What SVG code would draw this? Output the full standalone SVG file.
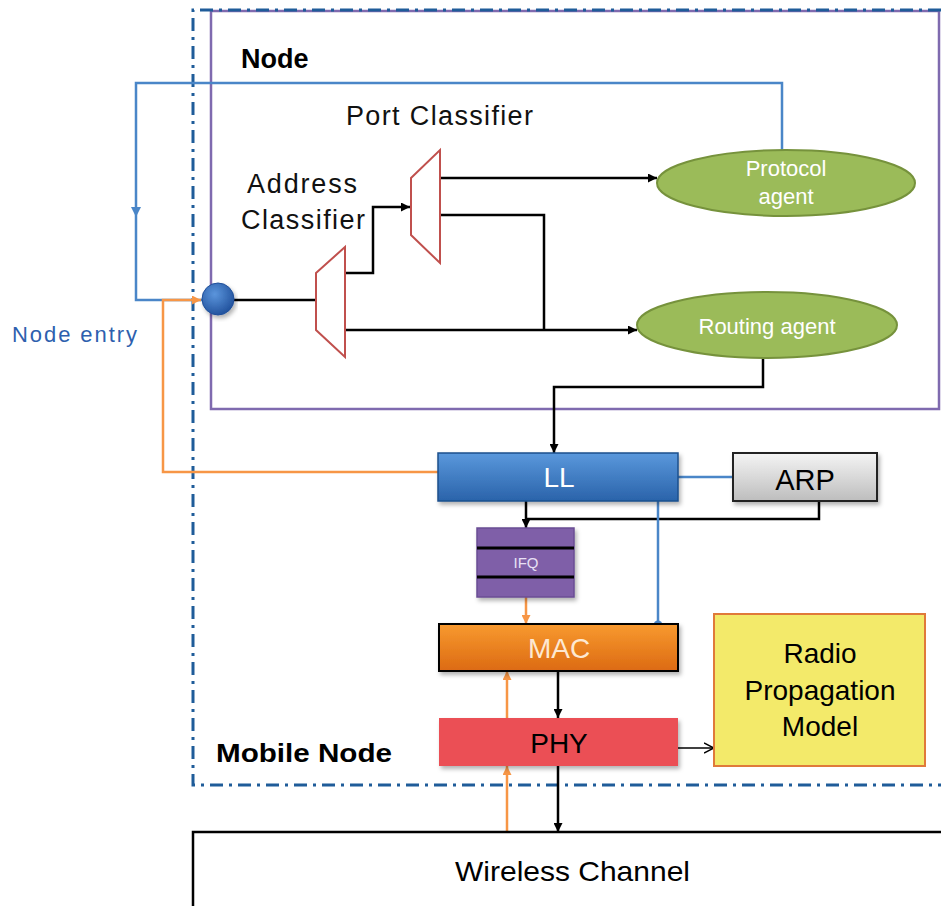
<svg xmlns="http://www.w3.org/2000/svg" width="941" height="906" viewBox="0 0 941 906">
<style>
text{font-family:"Liberation Sans",Arial,sans-serif}
.blk{fill:none;stroke:#000;stroke-width:2.5}
.blu{fill:none;stroke:#4a86c8;stroke-width:2.5}
.org{fill:none;stroke:#f79646;stroke-width:2.5}
.cls{fill:#fff;stroke:#c0504d;stroke-width:2}
.agent{fill:#9bbb59;stroke:#76923c;stroke-width:2}
.lbl{font-size:27px;fill:#111}
.wt{fill:#fff}
</style>
<defs>
<marker id="ab" viewBox="0 0 10 10" refX="10" refY="5" markerWidth="10" markerHeight="9" markerUnits="userSpaceOnUse" orient="auto"><path d="M0,0 L10,5 L0,10 z" fill="#000"/></marker>
<marker id="ao" viewBox="0 0 10 10" refX="10" refY="5" markerWidth="9" markerHeight="9" markerUnits="userSpaceOnUse" orient="auto"><path d="M0,0 L10,5 L0,10 z" fill="#f79646"/></marker>
<marker id="aopen" viewBox="0 0 10 10" refX="10" refY="5" markerWidth="10" markerHeight="12" markerUnits="userSpaceOnUse" orient="auto"><path d="M0,0 L10,5 L0,10" fill="none" stroke="#000" stroke-width="1.5"/></marker>
<linearGradient id="gLL" x1="0" y1="0" x2="0" y2="1"><stop offset="0" stop-color="#5a98dc"/><stop offset="1" stop-color="#2a63aa"/></linearGradient>
<linearGradient id="gARP" x1="0" y1="0" x2="0" y2="1"><stop offset="0" stop-color="#f4f4f4"/><stop offset="0.5" stop-color="#d9d9d9"/><stop offset="1" stop-color="#bdbdbd"/></linearGradient>
<linearGradient id="gMAC" x1="0" y1="0" x2="0" y2="1"><stop offset="0" stop-color="#f89a30"/><stop offset="1" stop-color="#dc6a12"/></linearGradient>
<radialGradient id="gBall" cx="0.4" cy="0.35" r="0.7"><stop offset="0" stop-color="#5b95dc"/><stop offset="1" stop-color="#1f4f9a"/></radialGradient>
<filter id="sh" x="-5%" y="-10%" width="115%" height="130%"><feDropShadow dx="2" dy="3" stdDeviation="2" flood-color="#000" flood-opacity="0.3"/></filter>
</defs>

<g id="mobile-node">
<rect x="211" y="11" width="728" height="398" fill="none" stroke="#7f6aaf" stroke-width="2.5"/>
<path d="M941,10 L193,10 L193,785 L941,785" fill="none" stroke="#1f5c99" stroke-width="3" stroke-dasharray="13 6 3 6"/>
<text x="216" y="762" font-size="25" font-weight="bold" textLength="176" lengthAdjust="spacingAndGlyphs">Mobile Node</text>
</g>

<g id="node-label"><text x="241" y="68" font-size="27" font-weight="bold" fill="#000">Node</text></g>
<g id="port-label"><text x="346" y="125" class="lbl" textLength="187">Port Classifier</text></g>
<g id="address-label"><text x="247" y="193" class="lbl" textLength="110">Address</text><text x="241" y="229" class="lbl" textLength="124">Classifier</text></g>
<g id="node-entry-label"><text x="12" y="342" font-size="22" fill="#2e5fae" textLength="125">Node entry</text></g>

<g id="connectors">
<polyline class="blu" points="782,150 782,83 136,83 136,300 203,300"/>
<path d="M131,207 L141,207 L136,217 z" fill="#4a86c8"/>
<polyline class="org" points="440,472 163,472 163,300 201,300" marker-end="url(#ao)"/>
<line class="blk" x1="234" y1="300" x2="316" y2="300"/>
<polyline class="blk" points="345,273 373,273 373,207 410,207" marker-end="url(#ab)"/>
<line class="blk" x1="440" y1="178" x2="657" y2="178" marker-end="url(#ab)"/>
<polyline class="blk" points="440,215 544,215 544,330"/>
<line class="blk" x1="345" y1="330" x2="637" y2="330" marker-end="url(#ab)"/>
<polyline class="blk" points="763,358 763,387 554,387 554,453" marker-end="url(#ab)"/>
<line class="blu" x1="678" y1="477" x2="733" y2="477"/>
<line class="blk" x1="526" y1="501" x2="526" y2="528" marker-end="url(#ab)"/>
<polyline class="blk" points="819,501 819,519 526,519"/>
<line class="org" x1="526" y1="597" x2="526" y2="624" marker-end="url(#ao)"/>
<line class="blu" x1="658" y1="501" x2="658" y2="624"/>
<circle cx="658" cy="625" r="4.5" fill="#4a86c8"/>
<line class="blk" x1="558" y1="671" x2="558" y2="718" marker-end="url(#ab)"/>
<line class="org" x1="507" y1="718" x2="507" y2="671" marker-end="url(#ao)"/>
<line x1="678" y1="748" x2="714" y2="748" stroke="#000" stroke-width="1.5" marker-end="url(#aopen)"/>
<line class="blk" x1="558" y1="766" x2="558" y2="832" marker-end="url(#ab)"/>
<line class="org" x1="507" y1="832" x2="507" y2="766" marker-end="url(#ao)"/>
</g>

<g id="entry-point"><circle cx="218" cy="299" r="16" fill="url(#gBall)" stroke="#1f4f9a" stroke-width="1" filter="url(#sh)"/></g>
<g id="address-classifier"><polygon class="cls" points="316,273 345,247 345,357 316,330"/></g>
<g id="port-classifier"><polygon class="cls" points="411,178 440,150 440,263 411,235"/></g>

<g id="protocol-agent">
<ellipse class="agent" cx="786" cy="183" rx="129" ry="33"/>
<text x="786" y="176" font-size="22" text-anchor="middle" class="wt">Protocol</text>
<text x="786" y="204" font-size="22" text-anchor="middle" class="wt">agent</text>
</g>
<g id="routing-agent">
<ellipse class="agent" cx="767" cy="325" rx="130" ry="33"/>
<text x="767" y="334" font-size="22" text-anchor="middle" class="wt">Routing agent</text>
</g>

<g id="LL">
<rect x="438" y="453" width="240" height="48" fill="url(#gLL)" stroke="#1d4f8c" stroke-width="1.5" filter="url(#sh)"/>
<text x="559" y="487" font-size="28" text-anchor="middle" class="wt">LL</text>
</g>
<g id="ARP">
<rect x="733" y="453" width="144" height="48" fill="url(#gARP)" stroke="#222" stroke-width="2" filter="url(#sh)"/>
<text x="805" y="490" font-size="29" text-anchor="middle" fill="#000">ARP</text>
</g>
<g id="IFQ">
<rect x="477" y="528" width="97" height="69" fill="#7f5fa8" stroke="#6a4d94" stroke-width="1.5" filter="url(#sh)"/>
<line x1="477" y1="548" x2="574" y2="548" stroke="#000" stroke-width="3"/>
<line x1="477" y1="577" x2="574" y2="577" stroke="#000" stroke-width="3"/>
<text x="526" y="568" font-size="15" text-anchor="middle" fill="#e8e0f4">IFQ</text>
</g>
<g id="MAC">
<rect x="439" y="624" width="239" height="47" fill="url(#gMAC)" stroke="#000" stroke-width="2" filter="url(#sh)"/>
<text x="559" y="658" font-size="28" text-anchor="middle" fill="#fde8d2">MAC</text>
</g>
<g id="PHY">
<rect x="439" y="718" width="239" height="48" fill="#eb4f55" filter="url(#sh)"/>
<text x="559" y="753" font-size="28" text-anchor="middle" fill="#000">PHY</text>
</g>
<g id="radio-propagation-model">
<rect x="714" y="614" width="211" height="152" fill="#f3ea6a" stroke="#e07a3a" stroke-width="2"/>
<text x="820" y="663" font-size="28" text-anchor="middle" fill="#000">Radio</text>
<text x="820" y="700" font-size="28" text-anchor="middle" fill="#000">Propagation</text>
<text x="820" y="736" font-size="28" text-anchor="middle" fill="#000">Model</text>
</g>
<g id="wireless-channel">
<path d="M193,906 L193,832 L941,832" fill="none" stroke="#000" stroke-width="2.5"/>
<text x="455" y="881" font-size="28" fill="#000" textLength="235" lengthAdjust="spacingAndGlyphs">Wireless Channel</text>
</g>
</svg>
